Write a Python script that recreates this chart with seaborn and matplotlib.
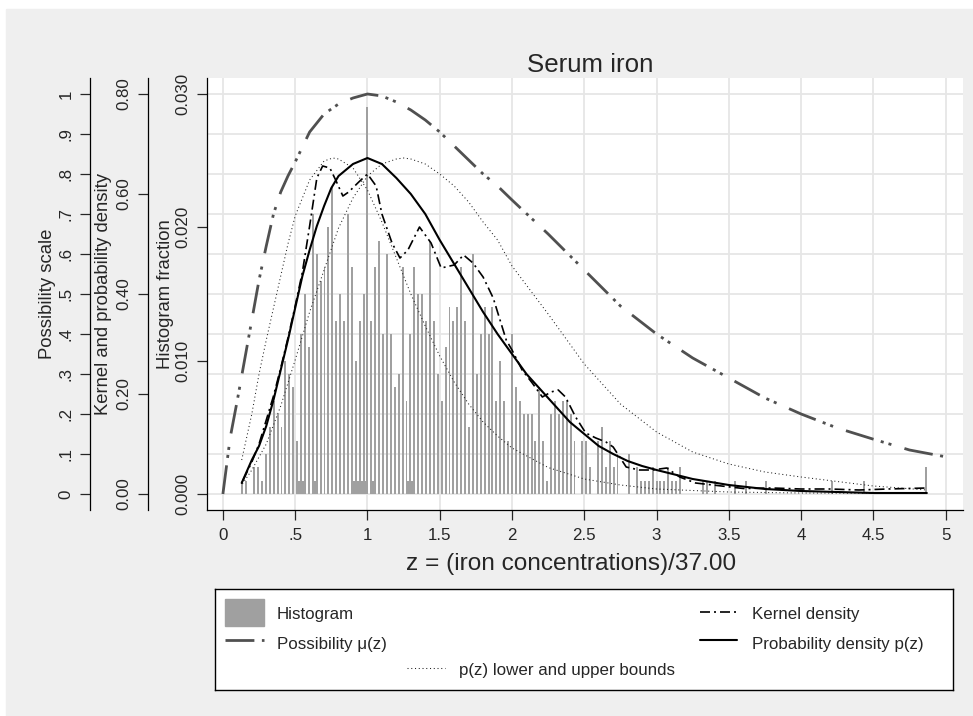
import numpy as np
import pandas as pd
import matplotlib
matplotlib.use("Agg")
import matplotlib.pyplot as plt
import seaborn as sns
from matplotlib.patches import Rectangle

# ---------------- data ----------------
# histogram: iron concentration (bars sit at z = iron/37) and fraction (per 1000 obs)
hist_iron = [5, 6, 8, 9, 10, 11, 12, 13, 14, 15, 16, 17, 18, 19, 19.5, 20, 20.5, 21, 22, 23,
             23.5, 24, 25, 26, 27, 28, 29, 30, 31, 32, 33, 33.5, 34, 34.5, 35, 35.5, 36, 36.5,
             37, 38, 38.5, 39, 40, 41, 42, 43, 44, 45, 46, 47, 47.5, 48, 48.5, 49, 50, 51, 52,
             53, 54, 55, 56, 57, 58, 59, 60, 61, 62, 63, 64, 65, 66, 67, 68, 69, 70, 71, 72,
             73, 74, 75, 76, 77, 78, 79, 80, 81, 82, 83, 84, 85, 86, 87, 88, 89, 90, 92, 93,
             94, 96, 97, 98, 99, 100, 101, 104, 106, 107, 108, 109, 110, 111, 112, 113, 114,
             115, 116, 117, 123, 124, 126, 131, 134, 139, 156, 164, 180]
hist_per_1000 = [1, 1, 2, 2, 1, 3, 5, 7, 6, 5, 10, 9, 8, 4, 1, 12, 1, 15, 11, 21,
                 1, 18, 16, 17, 20, 23, 13, 15, 13, 21, 17, 1, 10, 1, 13, 1, 15, 1,
                 29, 13, 1, 17, 19, 12, 18, 12, 8, 9, 17, 7, 1, 12, 1, 17, 15, 15, 13,
                 19, 13, 9, 7, 11, 14, 13, 14, 17, 13, 5, 18, 9, 12, 14, 12, 14, 7, 10, 7,
                 4, 12, 8, 7, 6, 6, 6, 4, 8, 4, 1, 6, 7, 6, 7, 7, 6, 4, 4, 4,
                 2, 4, 5, 2, 4, 2, 3, 3, 2, 1, 1, 1, 2, 1, 1, 1, 2,
                 1, 1, 2, 1, 1, 1, 1, 1, 1, 1, 1, 2]

# possibility mu(z)
poss_z = [0, 0.05, 0.1, 0.15, 0.2, 0.25, 0.3, 0.35, 0.4, 0.45, 0.5, 0.6, 0.7, 0.8, 0.9, 1.0,
          1.1, 1.2, 1.3, 1.4, 1.5, 1.6, 1.7, 1.8, 1.9, 2.0, 2.25, 2.5, 2.75, 3.0, 3.25, 3.5,
          3.75, 4.0, 4.25, 4.5, 4.75, 5.0]
poss_mu = [0, 0.14, 0.235, 0.335, 0.435, 0.535, 0.62, 0.70, 0.755, 0.795, 0.83, 0.905, 0.95,
           0.975, 0.99, 1.0, 0.995, 0.98, 0.96, 0.935, 0.905, 0.87, 0.835, 0.80, 0.77, 0.735,
           0.65, 0.56, 0.47, 0.40, 0.34, 0.29, 0.24, 0.20, 0.165, 0.137, 0.11, 0.093]

# probability density p(z)
pdf_z = [0.13, 0.2, 0.25, 0.3, 0.35, 0.4, 0.45, 0.5, 0.55, 0.6, 0.65, 0.7, 0.75, 0.8, 0.9,
         1.0, 1.1, 1.2, 1.3, 1.4, 1.5, 1.6, 1.7, 1.8, 1.9, 2.0, 2.1, 2.2, 2.3, 2.4, 2.5, 2.6,
         2.7, 2.8, 2.9, 3.0, 3.25, 3.5, 3.75, 4.0, 4.25, 4.5, 4.87]
pdf_p = [0.022, 0.068, 0.096, 0.136, 0.188, 0.248, 0.308, 0.372, 0.436, 0.488, 0.536, 0.576,
         0.612, 0.636, 0.66, 0.672, 0.66, 0.632, 0.60, 0.56, 0.508, 0.46, 0.412, 0.364, 0.32,
         0.28, 0.24, 0.208, 0.176, 0.144, 0.12, 0.096, 0.08, 0.066, 0.056, 0.048, 0.030,
         0.018, 0.010, 0.006, 0.004, 0.002, 0.002]

# lower / upper bounds of p(z)
low_z = [0.13, 0.2, 0.25, 0.3, 0.35, 0.4, 0.45, 0.5, 0.6, 0.7, 0.76, 0.8, 0.9, 1.0, 1.1, 1.2,
         1.3, 1.4, 1.5, 1.6, 1.7, 1.8, 1.9, 2.0, 2.25, 2.5, 2.75, 3.0, 3.5, 4.0, 4.87]
low_p = [0.068, 0.16, 0.24, 0.308, 0.372, 0.436, 0.50, 0.556, 0.628, 0.666, 0.672, 0.670,
         0.652, 0.608, 0.544, 0.472, 0.40, 0.336, 0.276, 0.224, 0.18, 0.144, 0.116, 0.092,
         0.053, 0.030, 0.018, 0.010, 0.004, 0.002, 0.001]
up_z = [0.135, 0.2, 0.3, 0.4, 0.5, 0.6, 0.7, 0.8, 0.9, 1.0, 1.1, 1.2, 1.25, 1.3, 1.4, 1.5,
        1.6, 1.7, 1.8, 1.9, 2.0, 2.25, 2.5, 2.75, 3.0, 3.25, 3.5, 3.75, 4.0, 4.25, 4.5, 4.87]
up_p = [0.02, 0.048, 0.1, 0.176, 0.268, 0.364, 0.448, 0.532, 0.592, 0.636, 0.66, 0.670,
        0.672, 0.670, 0.66, 0.64, 0.616, 0.584, 0.544, 0.508, 0.456, 0.36, 0.26, 0.18,
        0.124, 0.084, 0.06, 0.044, 0.034, 0.025, 0.016, 0.008]

# kernel density
kde_z = [0.14, 0.2, 0.25, 0.3, 0.35, 0.4, 0.45, 0.5, 0.55, 0.6, 0.65, 0.69, 0.74, 0.78, 0.83,
         0.87, 0.94, 1.0, 1.06, 1.1, 1.17, 1.225, 1.28, 1.36, 1.44, 1.51, 1.6, 1.665, 1.73,
         1.8, 1.87, 1.96, 2.0, 2.07, 2.14, 2.21, 2.27, 2.32, 2.37, 2.44, 2.51, 2.58, 2.65,
         2.70, 2.79, 2.88, 2.97, 3.07, 3.16, 3.27, 3.39, 3.6, 3.8, 4.0, 4.2, 4.4, 4.6, 4.87]
kde_d = [0.028, 0.064, 0.100, 0.148, 0.196, 0.252, 0.312, 0.376, 0.444, 0.536, 0.632, 0.656,
         0.652, 0.628, 0.596, 0.604, 0.624, 0.64, 0.616, 0.56, 0.502, 0.472, 0.488, 0.534,
         0.502, 0.452, 0.458, 0.478, 0.462, 0.434, 0.392, 0.308, 0.288, 0.248, 0.222, 0.194,
         0.204, 0.208, 0.194, 0.154, 0.122, 0.112, 0.104, 0.094, 0.054, 0.048, 0.048, 0.052,
         0.034, 0.022, 0.018, 0.011, 0.012, 0.010, 0.010, 0.008, 0.010, 0.012]

x_ticks = [0, 0.5, 1, 1.5, 2, 2.5, 3, 3.5, 4, 4.5, 5]
x_labels = ["0", ".5", "1", "1.5", "2", "2.5", "3", "3.5", "4", "4.5", "5"]
poss_ticks = [0, .1, .2, .3, .4, .5, .6, .7, .8, .9, 1]
poss_labels = ["0", ".1", ".2", ".3", ".4", ".5", ".6", ".7", ".8", ".9", "1"]
dens_ticks = [0, 0.2, 0.4, 0.6, 0.8]
dens_labels = ["0.00", "0.20", "0.40", "0.60", "0.80"]
hist_ticks = [0, 0.01, 0.02, 0.03]
hist_labels = ["0.000", "0.010", "0.020", "0.030"]

# ---------------- style ----------------
sns.set_style("white")
plt.rcParams["font.family"] = ["Liberation Sans", "DejaVu Sans"]
plt.rcParams["axes.edgecolor"] = "black"
plt.rcParams["axes.linewidth"] = 0.9

GRID = "#e6e6e6"
BAR = "#a0a0a0"
POSS = "#505050"
TICK_FS = 12.2
LAB_FS = 13.3
LEG_FS = 12.2

fig = plt.figure(figsize=(9.73, 7.16), dpi=100)
fig.patch.set_facecolor("white")
fig.add_artist(Rectangle((6 / 973, 0), 1, 1 - 9 / 716, transform=fig.transFigure,
                         color="#efefef", zorder=-10))

W, H = 973, 716
ax = fig.add_axes([207 / W, 1 - 510 / H, 756 / W, 432 / H])   # possibility scale (host)
ax.set_facecolor("white")
ax_h = ax.twinx()   # histogram fraction
ax_k = ax.twinx()   # kernel / probability density

# histogram bars
hist_df = pd.DataFrame({"z": np.array(hist_iron) / 37.0,
                        "frac": np.array(hist_per_1000) / 1000.0})
edges = [(j + 0.5) / 74 for j in range(7, 363)]
sns.histplot(data=hist_df, x="z", weights="frac", bins=edges, shrink=1.0,
             color=BAR, linewidth=0, alpha=1, ax=ax_h)

# curves
dot = (0, (1, 2.6))
sns.lineplot(x=low_z, y=low_p, ax=ax_k, color="#222222", lw=0.75, linestyle=dot)
sns.lineplot(x=up_z, y=up_p, ax=ax_k, color="#222222", lw=0.75, linestyle=dot)
sns.lineplot(x=kde_z, y=kde_d, ax=ax_k, color="black", lw=1.2,
             linestyle=(0, (6, 2.4, 1.2, 2.4)))
sns.lineplot(x=pdf_z, y=pdf_p, ax=ax_k, color="black", lw=1.5)
sns.lineplot(x=poss_z, y=poss_mu, ax=ax, color=POSS, lw=2.0,
             linestyle=(0, (10.4, 2.7, 1.1, 1.8, 1.1, 4.9)))

# limits (all three scales share the same pixel span)
ax.set_xlim(-0.11, 5.12)
ax.set_ylim(-0.04, 1.04)
ax_k.set_ylim(-0.04 * 0.8, 1.04 * 0.8)
ax_h.set_ylim(-0.04 * 0.03, 1.04 * 0.03)

# grid on host
ax.set_axisbelow(True)
ax.grid(True, color=GRID, lw=1.3)

# spines
for a in (ax, ax_h, ax_k):
    a.spines["top"].set_visible(False)
    a.spines["right"].set_visible(False)
for a in (ax_h, ax_k):
    a.spines["bottom"].set_visible(False)
    a.yaxis.tick_left()
    a.yaxis.set_label_position("left")
    a.spines["left"].set_visible(True)
ax.spines["left"].set_position(("outward", 84.2))
ax_k.spines["left"].set_position(("outward", 42.5))

# ticks
ax.set_xticks(x_ticks, x_labels, fontsize=TICK_FS)
ax.tick_params(axis="x", direction="out", length=7.2, width=0.9, pad=6, bottom=True)
for a, t, l in ((ax, poss_ticks, poss_labels), (ax_k, dens_ticks, dens_labels),
                (ax_h, hist_ticks, hist_labels)):
    a.set_yticks(t)
    a.set_yticklabels(l, rotation=90, va="center", fontsize=TICK_FS)
    a.tick_params(axis="y", direction="out", length=7.2, width=0.9, pad=4.5, left=True,
                  right=False)

# axis titles
ax.set_ylabel("Possibility scale", fontsize=LAB_FS)
ax_k.set_ylabel("Kernel and probability density", fontsize=LAB_FS)
ax_h.set_ylabel("Histogram fraction", fontsize=LAB_FS)
ax.yaxis.set_label_coords(-0.200, 0.5)
ax_k.yaxis.set_label_coords(-0.125, 0.5)
ax_h.yaxis.set_label_coords(-0.044, 0.5)
ax_h.set_xlabel("")
ax_k.set_xlabel("")
ax.set_xlabel("z = (iron concentrations)/37.00", fontsize=17.6)
ax.xaxis.set_label_coords(0.4815, -0.10)
ax.set_title("Serum iron", fontsize=18.6, pad=4, x=0.5066)

# legend box
lg = fig.add_axes([215 / W, 1 - 690 / H, 738 / W, 101 / H])
lg.set_xlim(215, 953)
lg.set_ylim(690, 589)
lg.set_xticks([])
lg.set_yticks([])
lg.set_facecolor("white")
for s in lg.spines.values():
    s.set_visible(True)
    s.set_color("black")
    s.set_linewidth(1.0)

lg.add_patch(Rectangle((225, 599), 39, 27, color=BAR))
lg.text(277, 614, "Histogram", va="center", fontsize=LEG_FS)
lg.plot([225, 264], [640, 640], color=POSS, lw=2.0, linestyle=(0, (10.4, 2.7, 1.1, 1.8, 1.1, 4.9)))
lg.text(277, 644, "Possibility \u03bc(z)", va="center", fontsize=LEG_FS)
lg.plot([700, 737], [612, 612], color="black", lw=1.2, linestyle=(0, (6, 2.4, 1.2, 2.4)))
lg.text(752, 614, "Kernel density", va="center", fontsize=LEG_FS)
lg.plot([700, 737], [640, 640], color="black", lw=1.5)
lg.text(752, 644, "Probability density p(z)", va="center", fontsize=LEG_FS)
lg.plot([407, 445], [668, 668], color="#222222", lw=0.75, linestyle=dot)
lg.text(459, 671, "p(z) lower and upper bounds", va="center", fontsize=LEG_FS)

fig.savefig("out.png", dpi=100, facecolor=fig.get_facecolor())
